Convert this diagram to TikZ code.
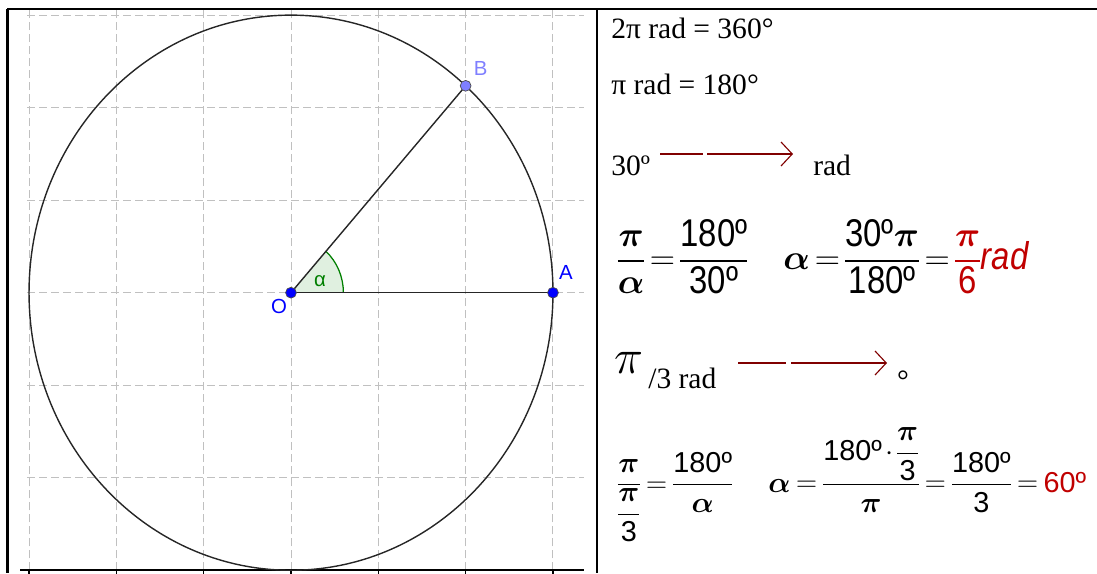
\documentclass[tikz,border=0pt]{standalone}
\usepackage{amsmath,amssymb}
\usepackage{fontspec}
\setmainfont{Liberation Serif}
\newfontfamily\eqfont{Liberation Sans}
\newfontfamily\eqfontnarrow[FakeStretch=0.85]{Liberation Sans}
\newfontfamily\geofont{Liberation Sans}
\usetikzlibrary{arrows.meta,positioning}

\definecolor{gridgray}{HTML}{C0C0C0}
\definecolor{ptblue}{HTML}{0000FF}
\definecolor{ptlight}{HTML}{7F7FFF}
\definecolor{anglegreen}{HTML}{007F00}
\definecolor{anglefill}{HTML}{E0F0E0}
\definecolor{arrowred}{HTML}{800000}
\definecolor{ansred}{HTML}{C00000}

\newcommand{\numA}[1]{\mbox{\eqfontnarrow #1}}
\newcommand{\numB}[1]{\mbox{\eqfont #1}}
\newcommand{\tightmath}[1]{\thickmuskip=#1\medmuskip=2mu\nulldelimiterspace=0.4pt}

\tikzset{
  gridline/.style={draw=gridgray, line width=0.7pt, dash pattern=on 0.2cm off 0.1cm},
  frameline/.style={line width=1.9pt},
  gpoint/.style={circle, draw=black!70, line width=0.5pt, minimum size=0.27cm, inner sep=0pt},
  glabel/.style={font=\geofont\fontsize{14.5}{16}\selectfont, inner sep=0pt},
  plaintext/.style={anchor=base west, inner sep=0pt, font=\fontsize{21}{25}\selectfont},
  eqA/.style={anchor=base west, inner sep=0pt, font=\fontsize{27.5}{32}\selectfont\tightmath{2.5mu}},
  eqB/.style={anchor=base west, inner sep=0pt, font=\fontsize{20.5}{24}\selectfont\tightmath{3.5mu}},
  convarrow/.style={draw=arrowred, line width=1.4pt,
    -{Straight Barb[length=0.28cm, width=0.6cm, line width=0.8pt]}}
}

\begin{document}
\begin{tikzpicture}[x=0.025cm, y=0.025cm]
\useasboundingbox (0,0) rectangle (1097,573);
% table frame
\draw[frameline] (7,564) -- (1097,564);
\draw[frameline] (7.5,564) -- (7.5,0);
\draw[frameline] (597,564) -- (597,0);

% geogebra panel
\begin{scope}[shift={(291,280.3)}, x=2.1825cm, y=2.3125cm]
  \foreach \i in {-3,...,3}
    \draw[gridline] (\i,-3) -- (\i,3.05);
  \foreach \j in {-2,...,3}
    \draw[gridline] (-3.02,\j) -- (3.35,\j);
  \draw[line width=1.4pt] (-3.1,-3) -- (3.35,-3);
  \foreach \i in {-3,...,3}
    \draw[line width=0.8pt] (\i,-3) -- (\i,-3.05);
  \coordinate (O) at (0,0);
  \coordinate (A) at (3,0);
  \coordinate (B) at (2,2.2361);
  \draw[line width=1pt, draw=black!85] (O) ellipse [x radius=6.5475cm, y radius=6.9375cm];
  \fill[anglefill] (O) -- (0.6,0) arc [start angle=0, end angle=48.19, x radius=1.3095cm, y radius=1.3875cm] -- cycle;
  \draw[anglegreen, line width=0.9pt] (0.6,0) arc [start angle=0, end angle=48.19, x radius=1.3095cm, y radius=1.3875cm];
  \draw[line width=1pt, draw=black!85] (O) -- (A);
  \draw[line width=1pt, draw=black!85] (O) -- (B);
  \node[gpoint, fill=ptblue] (Odot) at (O) {};
  \node[gpoint, fill=ptblue] (Adot) at (A) {};
  \node[gpoint, fill=ptlight] (Bdot) at (B) {};
  \node[glabel, text=ptblue] (labO) at ([xshift=-0.3cm, yshift=-0.35cm]O) {O};
  \node[glabel, text=ptblue] (labA) at ([xshift=0.325cm, yshift=0.5cm]A) {A};
  \node[glabel, text=ptlight] (labB) at ([xshift=0.375cm, yshift=0.425cm]B) {B};
  \node[glabel, text=anglegreen] (labalpha) at ([xshift=0.725cm, yshift=0.3cm]O) {α};
\end{scope}

% conversions
\node[plaintext] (twopi) at (611,534) {2π rad = 360°};
\node[plaintext] (onepi) at (611,478) {π rad = 180°};
\node[plaintext] (thirty) at (611,397) {30º};
\coordinate (arrAs) at (660,419);
\coordinate (arrAe) at (793,419);
\draw[convarrow, dash pattern=on 1.075cm off 0.1cm on 5cm off 0.1cm] (arrAs) -- (arrAe);
\node[plaintext] (radA) at (813,397) {rad};

\node[eqA] (ratioA) at (617,303) {$\dfrac{\boldsymbol{\pi}}{\boldsymbol{\alpha}}=\dfrac{\numA{180º}}{\numA{30º}}$};
\node[eqA] (alphaA) at (783,303) {$\boldsymbol{\alpha}=\dfrac{\numA{30º}\boldsymbol{\pi}}{\numA{180º}}=
  {\color{ansred}\dfrac{\boldsymbol{\pi}}{\numA{6}}\mbox{\eqfontnarrow\itshape rad}}$};

\node[inner sep=0pt, font=\fontsize{24}{28}\selectfont, scale=1.4, transform shape] (pithird) at (629,210) {$\pi$};
\node[plaintext] (thirdrad) at (648,185) {/3 rad};
\coordinate (arrBs) at (738,210);
\coordinate (arrBe) at (887,210);
\draw[convarrow, dash pattern=on 1.2cm off 0.125cm on 5cm off 0.1cm] (arrBs) -- (arrBe);
\node[plaintext, anchor=north] (degB) at (903,202) {°};

\node[eqB] (ratioB) at (617,81) {$\dfrac{\boldsymbol{\pi}}{\dfrac{\boldsymbol{\pi}}{\numB{3}}}=\dfrac{\numB{180º}}{\boldsymbol{\alpha}}$};
\node[eqB] (alphaB) at (768,81) {$\boldsymbol{\alpha}=\dfrac{\numB{180º}\cdot\dfrac{\boldsymbol{\pi}}{\numB{3}}}{\boldsymbol{\pi}}=\dfrac{\numB{180º}}{\numB{3}}=\numB{\color{ansred}60º}$};
\end{tikzpicture}
\end{document}
